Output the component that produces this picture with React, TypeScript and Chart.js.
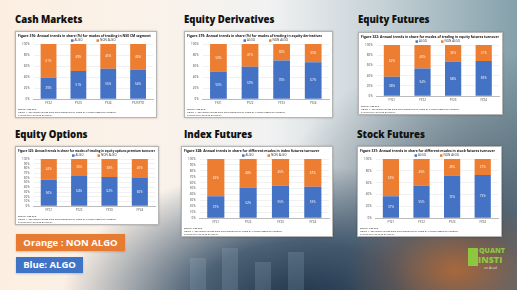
import React, { useEffect, useRef } from "react";
import { Chart, registerables } from "chart.js";

Chart.register(...registerables);

// ---- data ----
const cashLabels = ["FY22", "FY23", "FY24", "FY25YTD"];
const cashAlgo = [39, 51, 55, 54];
const cashNonAlgo = [61, 49, 45, 46];

const eqDerivLabels = ["FY21", "FY22", "FY23", "FY24"];
const eqDerivAlgo = [50, 59, 70, 67];
const eqDerivNonAlgo = [50, 41, 30, 33];

const eqFutLabels = ["FY21", "FY22", "FY23", "FY24"];
const eqFutAlgo = [38, 54, 68, 69];
const eqFutNonAlgo = [62, 46, 32, 31];

const eqOptLabels = ["FY21", "FY22", "FY23", "FY24"];
const eqOptAlgo = [56, 64, 62, 60];
const eqOptNonAlgo = [44, 36, 38, 40];

const idxFutLabels = ["FY21", "FY22", "FY23", "FY24"];
const idxFutAlgo = [37, 52, 55, 53];
const idxFutNonAlgo = [63, 48, 45, 47];

const stkFutLabels = ["FY21", "FY22", "FY23", "FY24"];
const stkFutAlgo = [37, 55, 72, 73];
const stkFutNonAlgo = [63, 45, 28, 27];

const seriesNames = ["ALGO", "NON ALGO"];

const BLUE = "#4472C4";
const ORANGE = "#ED7D31";

const valueLabels = {
  id: "valueLabels",
  afterDatasetsDraw(chart: any) {
    const { ctx } = chart;
    ctx.save();
    ctx.fillStyle = "#ffffff";
    ctx.font = '3px "Open Sans"';
    ctx.textAlign = "center";
    ctx.textBaseline = "middle";
    chart.data.datasets.forEach((ds: any, i: number) => {
      const meta = chart.getDatasetMeta(i);
      meta.data.forEach((el: any, j: number) => {
        ctx.fillText(ds.data[j] + "%", el.x, (el.y + el.base) / 2);
      });
    });
    ctx.restore();
  },
};

// compact legend drawn just above the plot area
const compactLegend = {
  id: "compactLegend",
  afterDraw(chart: any) {
    const { ctx, chartArea } = chart;
    const ds = chart.data.datasets;
    ctx.save();
    ctx.font = '3px "Open Sans"';
    ctx.textBaseline = "middle";
    ctx.textAlign = "left";
    const box = 2.5;
    const gap = 14;
    const widths = ds.map((d: any) => box + 1 + ctx.measureText(d.label).width);
    const total = widths.reduce((a: number, b: number) => a + b, 0) + gap * (ds.length - 1);
    let x = (chartArea.left + chartArea.right) / 2 - total / 2;
    const y = chartArea.top - 3.5;
    ds.forEach((d: any, i: number) => {
      ctx.fillStyle = d.backgroundColor;
      ctx.fillRect(x, y - box / 2, box, box);
      ctx.fillStyle = "#333";
      ctx.fillText(d.label, x + box + 1, y);
      x += widths[i] + gap;
    });
    ctx.restore();
  },
};

type PanelProps = {
  heading: string;
  hx: number;
  hy: number;
  x: number;
  y: number;
  w: number;
  h: number;
  caption: string;
  labels: string[];
  algo: number[];
  nonAlgo: number[];
  step: number;
};

function Panel(p: PanelProps) {
  const ref = useRef<HTMLCanvasElement>(null);
  useEffect(() => {
    if (!ref.current) return;
    const tiny = { family: '"Open Sans", sans-serif', size: 3 };
    const chart = new Chart(ref.current, {
      type: "bar",
      data: {
        labels: p.labels,
        datasets: [
          { label: seriesNames[0], data: p.algo, backgroundColor: BLUE },
          { label: seriesNames[1], data: p.nonAlgo, backgroundColor: ORANGE },
        ],
      },
      options: {
        animation: false,
        responsive: true,
        maintainAspectRatio: false,
        layout: { padding: { left: 2, right: 3, top: 1, bottom: 0 } },
        datasets: { bar: { barPercentage: 0.53, categoryPercentage: 1 } },
        plugins: {
          tooltip: { enabled: false },
          legend: { display: false },
          title: {
            display: true,
            text: p.caption,
            align: "start",
            color: "#111",
            font: { family: '"Open Sans", sans-serif', size: 3.4, weight: "bold" },
            padding: { top: 1, bottom: 6 },
          },
          subtitle: {
            display: true,
            position: "bottom",
            align: "start",
            text: [
              "Source: NSE EPR.",
              "Notes: 1. The above figures have been computed in terms of % share based on turnover.",
              "2. Data for FY25 is as of Nov'24.",
            ],
            color: "#222",
            font: { family: '"Open Sans", sans-serif', size: 2.4, lineHeight: 1.15 },
            padding: { top: 1.5, bottom: 0.5 },
          },
        },
        scales: {
          x: {
            stacked: true,
            grid: { display: false, drawTicks: false },
            border: { color: "#bbb" },
            ticks: { color: "#444", font: tiny, padding: 2, autoSkip: false, maxRotation: 0 },
          },
          y: {
            stacked: true,
            min: 0,
            max: 100,
            grid: { color: "#e2e2e2", lineWidth: 0.5, drawTicks: false },
            border: { display: false },
            ticks: {
              stepSize: p.step,
              autoSkip: false,
              color: "#444",
              font: tiny,
              padding: 4,
              callback: (v: any) => v + "%",
            },
          },
        },
      },
      plugins: [valueLabels, compactLegend],
    });
    return () => chart.destroy();
  }, []);
  return (
    <>
      <div
        style={{
          position: "absolute",
          left: p.hx,
          top: p.hy,
          fontFamily: '"Open Sans", sans-serif',
          fontWeight: 800,
          fontSize: 9.6,
          color: "#111",
          whiteSpace: "nowrap",
          lineHeight: 1,
        }}
      >
        {p.heading}
      </div>
      <div
        style={{
          position: "absolute",
          left: p.x,
          top: p.y,
          width: p.w,
          height: p.h,
          background: "#fff",
          border: "0.5px solid #b5b5b5",
          boxShadow: "0 0 2px rgba(0,0,0,0.25)",
          boxSizing: "border-box",
        }}
      >
        <canvas ref={ref} />
      </div>
    </>
  );
}

export default function App() {
  return (
    <div
      style={{
        position: "fixed",
        left: 0,
        top: 0,
        width: 517,
        height: 290,
        overflow: "hidden",
        background:
          "radial-gradient(ellipse 110px 70px at 455px 270px, rgba(185,105,50,0.85), rgba(140,90,60,0.35) 60%, rgba(0,0,0,0) 100%)," +
          "radial-gradient(ellipse 240px 140px at 300px 305px, rgba(28,48,70,1), rgba(48,72,96,0.85) 45%, rgba(0,0,0,0) 100%)," +
          "radial-gradient(ellipse 210px 180px at 480px 230px, rgba(60,75,90,0.85), rgba(0,0,0,0) 100%)," +
          "linear-gradient(90deg, #fcefe2 0%, #faf2ea 30%, #f1f2f2 52%, #c3d0d5 75%, #84a0aa 100%)",
      }}
    >
      {/* faint background bars */}
      {[
        [190, 258, 16, 40],
        [222, 248, 16, 50],
        [255, 262, 16, 36],
        [288, 252, 16, 46],
      ].map((r, i) => (
        <div
          key={i}
          style={{
            position: "absolute",
            left: r[0],
            top: r[1],
            width: r[2],
            height: r[3],
            background: "rgba(170,200,215,0.18)",
          }}
        />
      ))}

      <Panel
        heading="Cash Markets"
        hx={15}
        hy={15}
        x={15}
        y={31}
        w={142}
        h={87}
        caption="Figure 316: Annual trends in share (%) for modes of trading in NSE CM segment"
        labels={cashLabels}
        algo={cashAlgo}
        nonAlgo={cashNonAlgo}
        step={20}
      />
      <Panel
        heading="Equity Derivatives"
        hx={184}
        hy={15}
        x={184}
        y={31}
        w={149}
        h={87}
        caption="Figure 319: Annual trends in share (%) for modes of trading in equity derivatives"
        labels={eqDerivLabels}
        algo={eqDerivAlgo}
        nonAlgo={eqDerivNonAlgo}
        step={20}
      />
      <Panel
        heading="Equity Futures"
        hx={358}
        hy={15}
        x={358}
        y={32}
        w={145}
        h={83}
        caption="Figure 322: Annual trends in share for modes of trading in equity futures turnover"
        labels={eqFutLabels}
        algo={eqFutAlgo}
        nonAlgo={eqFutNonAlgo}
        step={20}
      />
      <Panel
        heading="Equity Options"
        hx={15}
        hy={130}
        x={15}
        y={146}
        w={144}
        h={79}
        caption="Figure 325: Annual trends in share for modes of trading in equity options premium turnover"
        labels={eqOptLabels}
        algo={eqOptAlgo}
        nonAlgo={eqOptNonAlgo}
        step={10}
      />
      <Panel
        heading="Index Futures"
        hx={184}
        hy={130}
        x={181}
        y={146}
        w={152}
        h={91}
        caption="Figure 328: Annual trends in share for different modes in index futures turnover"
        labels={idxFutLabels}
        algo={idxFutAlgo}
        nonAlgo={idxFutNonAlgo}
        step={10}
      />
      <Panel
        heading="Stock Futures"
        hx={357}
        hy={130}
        x={357}
        y={146}
        w={145}
        h={91}
        caption="Figure 331: Annual trends in share for different modes in stock futures turnover"
        labels={stkFutLabels}
        algo={stkFutAlgo}
        nonAlgo={stkFutNonAlgo}
        step={20}
      />

      <div
        style={{
          position: "absolute",
          left: 16,
          top: 234,
          width: 109,
          height: 17,
          background: "#E87B32",
          color: "#fff",
          fontFamily: '"Open Sans", sans-serif',
          fontWeight: 700,
          fontSize: 9.5,
          lineHeight: "17px",
          textAlign: "center",
          boxShadow: "0 1px 2px rgba(0,0,0,0.2)",
        }}
      >
        Orange : NON ALGO
      </div>
      <div
        style={{
          position: "absolute",
          left: 16,
          top: 257,
          width: 67,
          height: 16,
          background: "#3F73C5",
          color: "#fff",
          fontFamily: '"Open Sans", sans-serif',
          fontWeight: 700,
          fontSize: 9.5,
          lineHeight: "16px",
          textAlign: "center",
          boxShadow: "0 1px 2px rgba(0,0,0,0.2)",
        }}
      >
        Blue: ALGO
      </div>

      {/* logo */}
      <div style={{ position: "absolute", left: 468, top: 248, width: 10, height: 18, background: "#8DC63F" }} />
      <div
        style={{
          position: "absolute",
          left: 479,
          top: 247,
          color: "#8DC63F",
          fontFamily: '"Open Sans", sans-serif',
          fontWeight: 800,
          fontSize: 7,
          lineHeight: 1,
        }}
      >
        QUANT
      </div>
      <div
        style={{
          position: "absolute",
          left: 478,
          top: 255,
          color: "#8DC63F",
          fontFamily: '"Open Sans", sans-serif',
          fontWeight: 800,
          fontSize: 9,
          lineHeight: 1,
        }}
      >
        INSTI
      </div>
      <div
        style={{
          position: "absolute",
          left: 484,
          top: 266,
          color: "#ddd",
          fontFamily: '"Open Sans", sans-serif',
          fontSize: 3.5,
          lineHeight: 1,
        }}
      >
        an Acad
      </div>
    </div>
  );
}
